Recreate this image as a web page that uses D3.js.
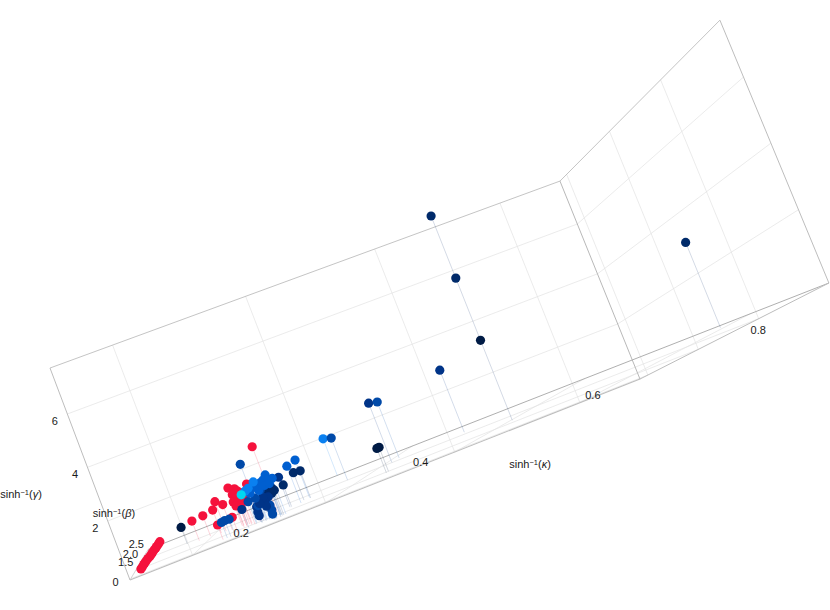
<!DOCTYPE html>
<html><head><meta charset="utf-8">
<style>html,body{margin:0;background:#fff}svg{display:block}text{font-family:"Liberation Sans",Arial,sans-serif;font-size:11px;fill:#1a1a1a}</style>
<script src="https://cdn.jsdelivr.net/npm/d3@7"></script></head>
<body><svg id="c" width="830" height="610"></svg>
<script>
const kappa=[.121,.121,.121,.121,.121,.121,.122,.122,.122,.122,.122,.122,.122,.122,.288,.182,.196,
.212,.218,.229,.234,.252,.242,.249,.255,.244,.251,.261,.242,.255,.261,.273,.258,.251,
.269,.165,.240,.245,.251,.264,.273,.327,.316,.306,.304,.322,.319,.784,.606,.606,.606,
.495,.414,.415,.451,.452,.315,.360,.283,.282,.282,.308,.308,.307,.314,.306,.316,.310,
.316,.295,.295,.281,
.295,.288,.281,.271,.295,.308,.303,.314,.319,.293,.277,
.298,.293,.302,.309,.285,
.286,.273,.268,.258];
const beta=[1.71,1.83,1.96,2.04,2.15,2.28,2.36,2.47,2.53,2.64,2.73,2.79,2.89,2.97,2.19,2.35,2.35,
2.28,2.28,2.20,1.73,1.81,2.20,2.20,2.12,2.20,2.12,2.04,2.20,2.04,2.04,2.04,2.12,2.04,
1.96,2.43,1.73,1.73,1.73,1.88,2.07,2.27,2.31,2.20,2.20,2.33,2.19,2.86,2.17,2.17,2.17,
2.62,2.51,2.61,1.99,1.94,2.98,2.49,1.88,1.88,1.88,1.73,1.73,1.73,1.81,1.81,1.73,1.73,
1.81,1.88,1.88,1.96,
1.88,1.88,1.96,1.96,1.88,1.88,1.88,1.81,1.81,1.88,1.96,
1.88,1.88,1.88,1.88,1.96,
1.96,2.04,2.04,2.12];
const gamma=[-.09,-.09,-.09,-.09,-.09,-.10,-.10,-.10,-.10,-.10,-.11,-.11,-.11,-.11,1.96,.42,.45,
.54,.75,.63,.33,.35,1.04,.95,.91,.80,.72,.73,.59,.59,.57,1.05,.82,.53,
.70,.32,.36,.38,.37,.44,1.68,.69,.69,.52,.79,1.01,1.02,2.39,6.80,4.66,2.53,
1.72,1.66,1.52,.64,.66,.83,1.12,.35,.18,.05,.31,.14,.00,.77,.73,.66,.59,
.68,.41,.25,.33,
.57,.41,.58,.56,.81,1.21,1.08,1.07,1.07,.98,.79,
1.03,.82,.90,.90,.92,
1.09,.91,.86,.75];
const shade=[0,0,0,0,0,0,0,0,0,0,0,0,0,0,0,0,0,
0,0,0,0,0,0,0,0,0,0,0,0,0,0,0,0,0,
0,7,4,4,4,5,4,6,6,6,5,3,3,6,6,6,7,
5,5,4,7,7,2,4,5,5,5,4,4,4,6,6,6,5,
6,5,5,4,
5,5,4,4,4,3,3,3,3,3,3,
3,3,3,3,3,
2,2,2,1];
const palette=["#f5123c","#00d6f2","#0a80f0","#005fd0","#0049a8","#003488","#002a6a","#001b45"];
const kappaTicks=[.2,.4,.6,.8],betaTicks=[1.5,2,2.5],gammaTicks=[0,2,4,6];
const gammaGrid=[2,4,6];
const kappaDomain=[.108,.898],betaDomain=[1.414,2.98],gammaDomain=[-.19,7.73];

const ku=d3.scaleLinear(kappaDomain,[0,1]),bv=d3.scaleLinear(betaDomain,[0,1]),gw=d3.scaleLinear(gammaDomain,[0,1]);
// perspective camera of the 3-D box
function project(k,b,g){const u=ku(k),v=bv(b),w=gw(g),d=1+.0616*u-.268*v+.0097*w;
 return[(130+549.4*u-21.6*v-79.5*w)/d,(580-177.6*u-177.8*v-208.4*w)/d];}
const svg=d3.select("#c"),line=d3.line();
const [k0,k1]=kappaDomain,[b0,b1]=betaDomain,[g0,g1]=gammaDomain;
function seg(parent,a,b,stroke,width,op){parent.append("path").attr("d",line([project(...a),project(...b)])).attr("fill","none").attr("stroke",stroke).attr("stroke-width",width).attr("stroke-opacity",op==null?1:op);}

const grid=svg.append("g");
const gc="#e3e3e3",gw2=.7;
kappaTicks.forEach(k=>{seg(grid,[k,b0,g0],[k,b0,g1],gc,gw2);seg(grid,[k,b0,g0],[k,b1,g0],gc,gw2);});
betaTicks.forEach(b=>{seg(grid,[k1,b,g0],[k1,b,g1],gc,gw2);seg(grid,[k0,b,g0],[k1,b,g0],gc,gw2);});
gammaGrid.forEach(g=>{seg(grid,[k0,b0,g],[k1,b0,g],gc,gw2);seg(grid,[k1,b0,g],[k1,b1,g],gc,gw2);});

const box=svg.append("g");
[[[k0,b0,g0],[k1,b0,g0],"#bdbdbd",1.1],[[k0,b1,g0],[k1,b1,g0],"#a6a6a6",.9],[[k1,b0,g0],[k1,b1,g0],"#bdbdbd",1],
 [[k0,b0,g0],[k0,b1,g0],"#c8c8c8",.8],[[k0,b0,g0],[k0,b0,g1],"#b5b5b5",.9],[[k1,b0,g0],[k1,b0,g1],"#b0b0b0",.9],
 [[k1,b1,g0],[k1,b1,g1],"#b5b5b5",.9],[[k0,b0,g1],[k1,b0,g1],"#b5b5b5",.8],[[k1,b0,g1],[k1,b1,g1],"#b5b5b5",.8]]
 .forEach(e=>seg(box,e[0],e[1],e[2],e[3]));

const idx=d3.range(kappa.length);
const stems=svg.append("g"),seen=new Set();
idx.forEach(i=>{const key=kappa[i]+"|"+beta[i];if(seen.has(key))return;seen.add(key);
 seg(stems,[kappa[i],beta[i],gamma[i]],[kappa[i],beta[i],g0],palette[shade[i]],.8,.22);});
const pts=svg.append("g");
pts.selectAll("circle").data(idx).join("circle")
 .attr("cx",i=>project(kappa[i],beta[i],gamma[i])[0])
 .attr("cy",i=>project(kappa[i],beta[i],gamma[i])[1])
 .attr("r",4.6).attr("fill",i=>palette[shade[i]]);

const labels=svg.append("g");
const fmt=d3.format(".1f");
kappaTicks.forEach(k=>{const p=project(k,b1,g0);labels.append("text").attr("x",p[0]+8).attr("y",p[1]+20.5).attr("text-anchor","middle").text(fmt(k));});
betaTicks.forEach(b=>{const p=project(k0,b,g0);labels.append("text").attr("x",p[0]-5).attr("y",p[1]-13).attr("text-anchor","middle").text(fmt(b));});
gammaTicks.forEach(g=>{const p=project(k0,b0,g);labels.append("text").attr("x",p[0]-12.5).attr("y",p[1]+11).attr("text-anchor","middle").text(g);});
function axisLabel(x,y,sym){const t=labels.append("text").attr("x",x).attr("y",y).attr("text-anchor","middle");
 t.append("tspan").text("sinh");
 t.append("tspan").attr("dy",-3.5).style("font-size","7.5px").text("\u22121");
 t.append("tspan").attr("dy",3.5).text("(");
 t.append("tspan").style("font-style","italic").text(sym);
 t.append("tspan").text(")");}
axisLabel(530,468,"\u03ba");axisLabel(21,498,"\u03b3");axisLabel(114,517,"\u03b2");
</script></body></html>
